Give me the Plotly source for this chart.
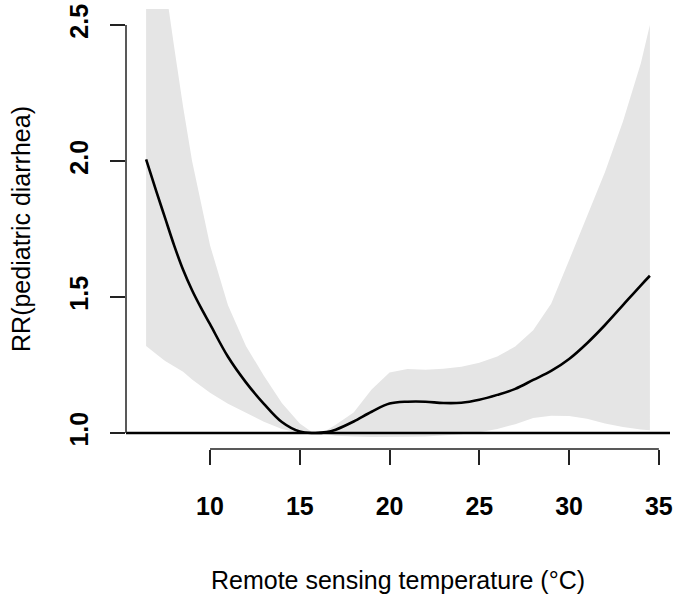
import plotly.graph_objects as go

# temperature grid (°C)
temp = [6.44, 7.0, 7.5, 8.0, 8.5, 9.0, 9.5, 10.0, 11.0, 12.0, 13.0, 14.0, 15.0, 15.75,
        16.5, 17.0, 18.0, 19.0, 20.0, 21.0, 22.0, 23.0, 24.0, 25.0, 26.0, 27.0, 28.0,
        29.0, 30.0, 31.0, 32.0, 33.0, 34.0, 34.5]

# relative risk (central estimate)
rr = [2.006, 1.89, 1.79, 1.69, 1.60, 1.525, 1.46, 1.40, 1.28, 1.186, 1.107, 1.04, 1.005, 1.0,
      1.003, 1.012, 1.042, 1.078, 1.108, 1.115, 1.115, 1.11, 1.111, 1.122, 1.14, 1.162, 1.195,
      1.228, 1.272, 1.33, 1.397, 1.47, 1.543, 1.578]

# 95% CI
rr_upper = [3.3, 2.95, 2.65, 2.42, 2.2, 2.0, 1.84, 1.69, 1.47, 1.32, 1.21, 1.11, 1.035, 1.0,
            1.01, 1.03, 1.075, 1.16, 1.222, 1.235, 1.232, 1.236, 1.243, 1.258, 1.281, 1.318, 1.378,
            1.475, 1.635, 1.8, 1.96, 2.145, 2.36, 2.5]
rr_lower = [1.32, 1.29, 1.265, 1.245, 1.225, 1.197, 1.172, 1.148, 1.107, 1.073, 1.041, 1.015, 1.0, 1.0,
            0.995, 0.99, 0.987, 0.985, 0.985, 0.986, 0.987, 0.99, 0.995, 1.003, 1.015, 1.032, 1.055,
            1.063, 1.062, 1.052, 1.035, 1.022, 1.013, 1.01]

xticks = [10, 15, 20, 25, 30, 35]
yticks = [1.0, 1.5, 2.0, 2.5]
yticklabels = ['1.0', '1.5', '2.0', '2.5']
ref_rr = 1.0

FONT = 'Liberation Sans, Arial, sans-serif'

band = go.Scatter(x=temp + temp[::-1], y=rr_upper + rr_lower[::-1],
                  fill='toself', fillcolor='#e5e5e5', line=dict(width=0),
                  mode='lines', hoverinfo='skip', showlegend=False)

curve = go.Scatter(x=temp, y=rr, mode='lines',
                   line=dict(color='black', width=2.6, shape='spline'),
                   showlegend=False)

fig = go.Figure(data=[band, curve])

fig.update_layout(
    width=678, height=594,
    margin=dict(l=126, r=8, t=9, b=145),
    paper_bgcolor='white', plot_bgcolor='white',
    font=dict(family=FONT, color='black'),
    shapes=[
        # reference line RR = 1
        dict(type='line', xref='paper', yref='y', x0=0, x1=1, y0=ref_rr, y1=ref_rr,
             line=dict(color='black', width=2.5)),
        # R-style axis lines spanning only the tick range
        dict(type='line', xref='x', yref='paper', x0=xticks[0], x1=xticks[-1], y0=0, y1=0,
             line=dict(color='#222', width=1.5)),
        dict(type='line', xref='paper', yref='y', x0=0, x1=0, y0=yticks[0], y1=yticks[-1],
             line=dict(color='#222', width=1.5)),
    ],
)

fig.update_xaxes(range=[5.32, 35.62], tickvals=xticks, ticks='outside', ticklen=15,
                 tickwidth=1.5, tickcolor='#222', showline=False, showgrid=False,
                 zeroline=False, ticklabelstandoff=20, automargin=False,
                 tickfont=dict(size=25, weight='bold', family=FONT),
                 title=dict(text='Remote sensing temperature (°C)',
                            font=dict(size=25, family=FONT), standoff=54))

fig.update_yaxes(range=[0.941, 2.559], tickvals=yticks, ticktext=yticklabels,
                 ticks='outside', ticklen=15, tickwidth=1.5, tickcolor='#222',
                 showline=False, showgrid=False, zeroline=False, tickangle=-90,
                 ticklabelstandoff=12, automargin=False,
                 tickfont=dict(size=25, weight='bold', family=FONT),
                 title=dict(text='RR(pediatric diarrhea)',
                            font=dict(size=25, family=FONT), standoff=27))

# drop the browser's default 8px body margin so the figure fills the window
fig.write_html("out.html", config={'displayModeBar': False},
               post_script="document.body.style.margin='0';")
